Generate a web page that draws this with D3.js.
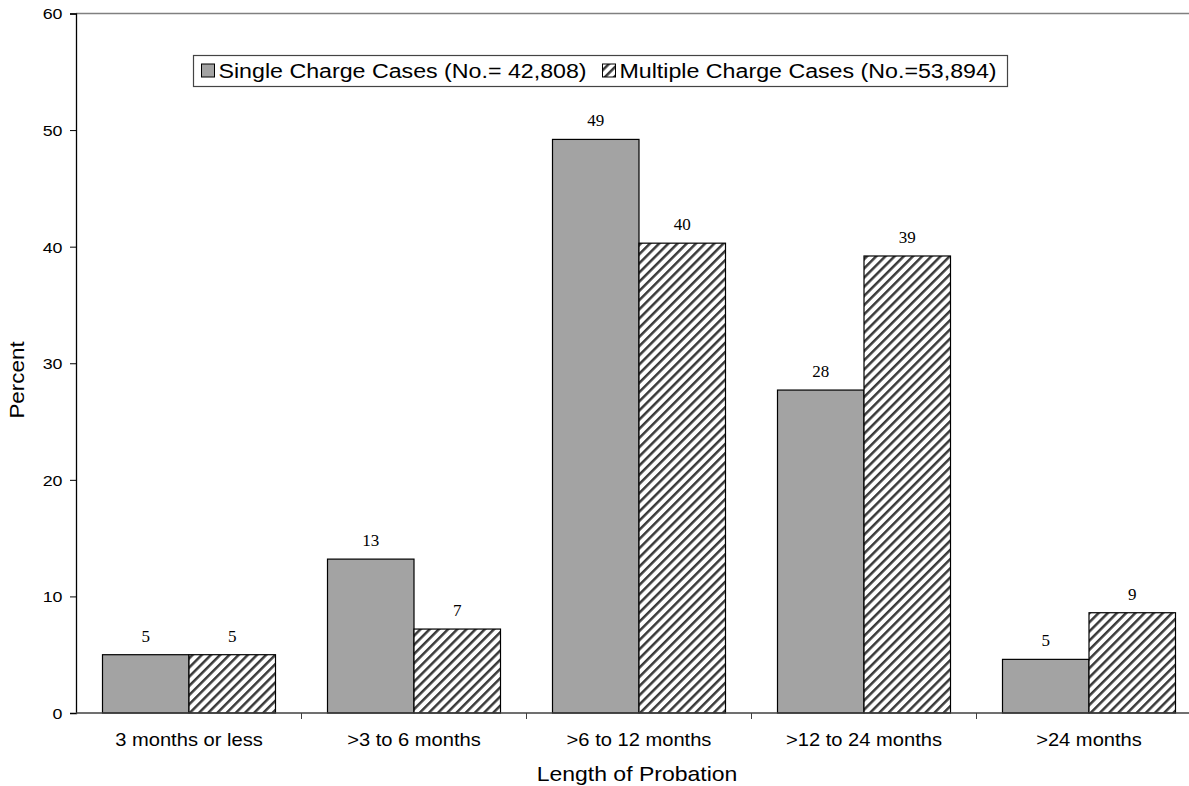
<!DOCTYPE html>
<html><head><meta charset="utf-8">
<script src="https://cdn.jsdelivr.net/npm/d3@7"></script>
<style>body{margin:0;background:#fff;} svg{display:block;}</style>
</head><body>
<svg id="c" width="1189" height="786"></svg>
<script>
const categories = ["3 months or less", ">3 to 6 months", ">6 to 12 months", ">12 to 24 months", ">24 months"];
const seriesNames = ["Single Charge Cases (No.= 42,808)", "Multiple Charge Cases (No.=53,894)"];
const singleValues = [5.0, 13.2, 49.2, 27.7, 4.6];
const multipleValues = [5.0, 7.2, 40.3, 39.2, 8.6];
const yTicks = [0, 10, 20, 30, 40, 50, 60];

const SANS = "Liberation Sans, Arial, sans-serif";
const SX = 1.15;
const svg = d3.select("#c");
const defs = svg.append("defs");
const pat = defs.append("pattern").attr("id","hatch").attr("patternUnits","userSpaceOnUse")
  .attr("width",6.5).attr("height",6.5).attr("patternTransform","rotate(45)");
pat.append("rect").attr("width",6.5).attr("height",6.5).attr("fill","#fff");
pat.append("rect").attr("x",0).attr("y",0).attr("width",2.5).attr("height",6.5).attr("fill","#3a3a3a");

function sText(parent, x, y, txt, size, anchor, sx, rot) {
  const t = parent.append("text")
    .attr("transform", `translate(${x},${y})` + (rot ? ` rotate(${rot})` : "") + ` scale(${sx||SX},1)`)
    .attr("text-anchor", anchor || "start")
    .attr("font-family", SANS).attr("font-size", size).attr("fill", "#000").text(txt);
  return t;
}

const x0 = d3.scaleBand().domain(categories).range([76.5, 1201.5]).paddingInner(0).paddingOuter(0);
const y = d3.scaleLinear().domain([0,60]).range([713,13.5]);
const barW = 86.5;

// top border
svg.append("line").attr("x1",76).attr("x2",1189).attr("y1",y(60)).attr("y2",y(60)).attr("stroke","#808080").attr("stroke-width",1.3);

// bars
const g = svg.append("g");
categories.forEach((c,i)=>{
  const cx = x0(c) + x0.bandwidth()/2;
  [[singleValues[i], cx-barW, "#a3a3a3"], [multipleValues[i], cx, "url(#hatch)"]].forEach(([v,bx,fill])=>{
    g.append("rect").attr("x",bx).attr("y",y(v)).attr("width",barW).attr("height",y(0)-y(v))
      .attr("fill",fill).attr("stroke","#000").attr("stroke-width",1.2);
    g.append("text").attr("x",bx+barW/2).attr("y",y(v)-13).attr("text-anchor","middle")
      .attr("font-family","Liberation Serif, Times New Roman, serif").attr("font-size",17).attr("fill","#000")
      .text(Math.round(v));
  });
});

// y axis
const yAxis = d3.axisLeft(y).tickValues(yTicks).tickSize(6).tickPadding(6).tickFormat(d3.format("d"));
const ya = svg.append("g").attr("transform","translate(76,0)").call(yAxis);
ya.select(".domain").attr("stroke","#000").attr("stroke-width",1.3);
ya.selectAll(".tick line").attr("stroke","#000");
ya.selectAll(".tick text").attr("x",null).attr("dy","0.35em")
  .attr("transform",`translate(-13.5,0) scale(${SX},1)`)
  .attr("font-family",SANS).attr("font-size",15.5).attr("fill","#000");

// x axis
const xa = svg.append("g").attr("transform","translate(0,713)");
xa.append("line").attr("x1",76).attr("x2",1201).attr("y1",0).attr("y2",0).attr("stroke","#404040").attr("stroke-width",1.3);
const bounds = categories.map(c=>x0(c)).concat([x0(categories[4])+x0.bandwidth()]);
xa.selectAll("line.t").data(bounds.slice(1)).enter().append("line").attr("class","t")
  .attr("x1",d=>d).attr("x2",d=>d).attr("y1",0).attr("y2",6).attr("stroke","#404040");
categories.forEach(c=>{
  sText(xa, x0(c)+x0.bandwidth()/2, 33, c, 17.5, "middle");
});

// axis titles
sText(svg, 637, 781, "Length of Probation", 20, "middle");
sText(svg, 24, 380, "Percent", 19.5, "middle", SX, -90);

// legend
const lg = svg.append("g");
lg.append("rect").attr("x",193.5).attr("y",55.5).attr("width",814).attr("height",31)
  .attr("fill","#fff").attr("stroke","#444").attr("stroke-width",1.2);
const items = [{name:seriesNames[0], fill:"#a3a3a3", x:201.5},{name:seriesNames[1], fill:"url(#hatch)", x:602.5}];
items.forEach(it=>{
  lg.append("rect").attr("x",it.x).attr("y",64).attr("width",13).attr("height",13)
    .attr("fill",it.fill).attr("stroke","#000").attr("stroke-width",1);
  sText(lg, it.x+17, 78, it.name, 19.5, "start", 1.19);
});
</script>
</body></html>
